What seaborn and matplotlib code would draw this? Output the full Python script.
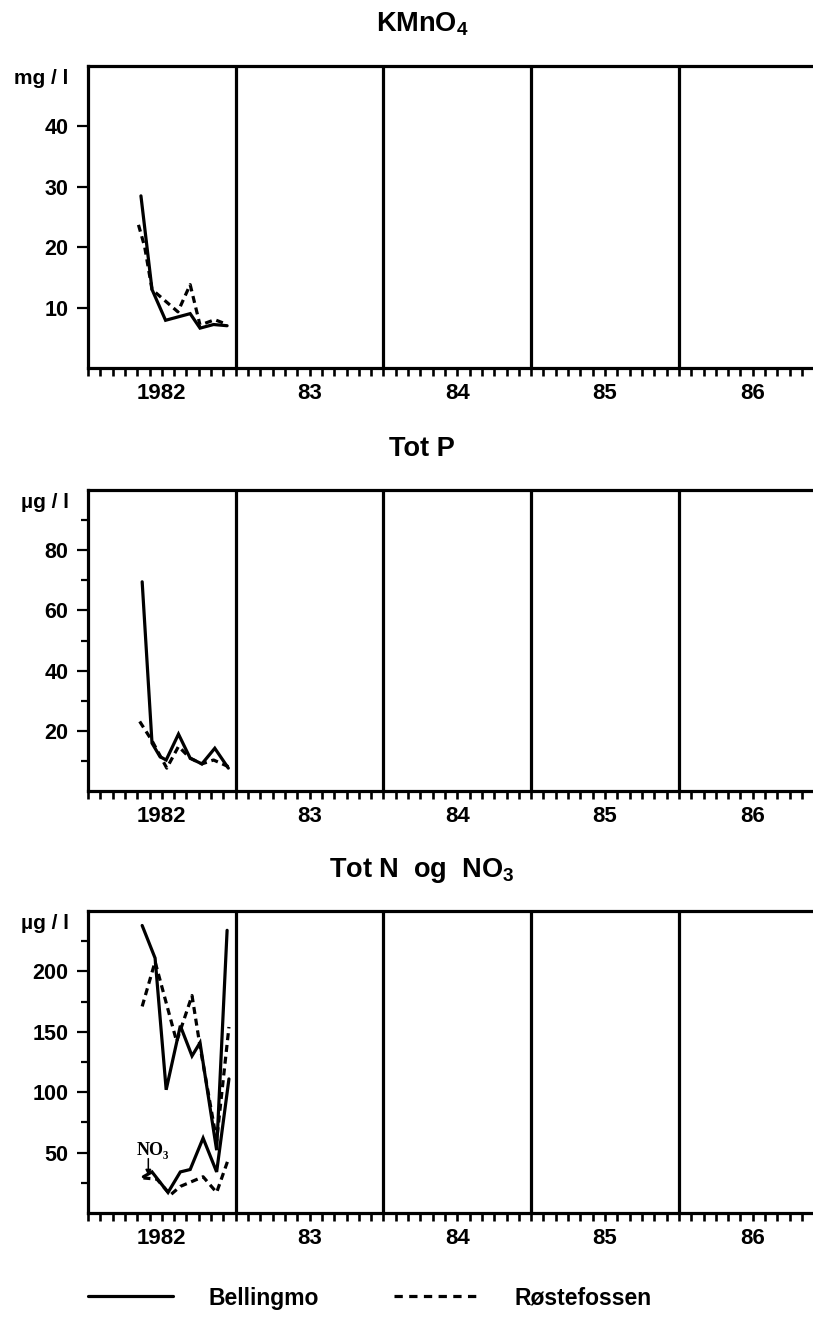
import numpy as np
import pandas as pd
import matplotlib
matplotlib.use("Agg")
import matplotlib.pyplot as plt
from matplotlib.lines import Line2D
from matplotlib.ticker import FixedLocator, NullFormatter, FixedFormatter
from matplotlib.font_manager import FontProperties
import seaborn as sns

# ---------------- data (x = months since 1 Jan 1982) ----------------
series_names = ["Bellingmo", "Røstefossen"]
year_labels = ["1982", "83", "84", "85", "86"]

kmno4_bel_month = [4.3, 5.2, 6.3, 8.3, 9.1, 10.2, 11.3]
kmno4_bel = [28.5, 13.0, 7.9, 9.0, 6.6, 7.2, 7.0]
kmno4_ros_month = [4.1, 4.6, 5.2, 7.3, 8.3, 9.1, 10.3, 11.3]
kmno4_ros = [23.7, 20.1, 13.0, 9.3, 13.8, 7.1, 8.0, 7.2]

totp_bel_month = [4.4, 5.2, 5.85, 6.35, 7.35, 8.3, 9.25, 10.3, 11.4]
totp_bel = [69.5, 15.9, 11.4, 10.3, 18.9, 10.9, 9.0, 14.2, 7.6]
totp_ros_month = [4.2, 5.2, 6.4, 7.35, 8.3, 9.25, 10.2, 11.4]
totp_ros = [23.1, 16.7, 7.6, 14.8, 10.9, 9.0, 10.3, 8.1]

totn_bel_month = [4.4, 5.45, 6.35, 7.5, 8.45, 9.1, 10.45, 11.3]
totn_bel = [238, 211, 102, 155, 130, 141, 52, 234]
totn_ros_month = [4.4, 5.45, 7.2, 8.45, 9.1, 10.45, 11.45]
totn_ros = [171, 208, 142, 180, 138, 60, 154]

no3_bel_month = [4.5, 5.2, 6.5, 7.5, 8.3, 9.35, 10.45, 11.45]
no3_bel = [30, 34, 17, 34, 36, 62, 34, 111]
no3_ros_month = [4.5, 5.6, 6.7, 7.5, 9.35, 10.45, 11.45]
no3_ros = [29, 28, 15, 22, 30, 17, 46]

# ---------------- style ----------------
sns.set_theme(style="white", rc={
    "text.color": "black", "axes.labelcolor": "black",
    "xtick.color": "black", "ytick.color": "black",
    "axes.edgecolor": "black",
})
plt.rcParams['font.family'] = ['Liberation Sans', 'DejaVu Sans']
plt.rcParams['font.weight'] = 'bold'
plt.rcParams['mathtext.fontset'] = 'custom'
plt.rcParams['mathtext.rm'] = 'Liberation Sans:bold'
plt.rcParams['mathtext.default'] = 'rm'

W, H = 813, 1317
fig = plt.figure(figsize=(W / 100, H / 100), dpi=100)

LEFT = 88
MONTH_PX = 12.31
XMAX = (W - LEFT) / MONTH_PX
LW = 2.3
DASH = (0, (2.2, 1.5))

panels = [
    dict(title="KMnO$_4$", unit="mg / l", top=66, bottom=368, ylim=(0, 50),
         major=[10, 20, 30, 40], minor=[],
         series=[(kmno4_bel_month, kmno4_bel, False), (kmno4_ros_month, kmno4_ros, True)]),
    dict(title="Tot P", unit="µg / l", top=490, bottom=791, ylim=(0, 100),
         major=[20, 40, 60, 80], minor=[10, 30, 50, 70, 90],
         series=[(totp_bel_month, totp_bel, False), (totp_ros_month, totp_ros, True)]),
    dict(title="Tot N  og  NO$_3$", unit="µg / l", top=911, bottom=1213, ylim=(0, 250),
         major=[50, 100, 150, 200], minor=[25, 75, 125, 175, 225],
         series=[(totn_bel_month, totn_bel, False), (totn_ros_month, totn_ros, True),
                 (no3_bel_month, no3_bel, False), (no3_ros_month, no3_ros, True)]),
]

axes = []
for p in panels:
    ax = fig.add_axes([LEFT / W, 1 - p["bottom"] / H, 1 - LEFT / W, (p["bottom"] - p["top"]) / H])
    axes.append(ax)
    for months, vals, dashed in p["series"]:
        df = pd.DataFrame({"month": months, "value": vals})
        sns.lineplot(data=df, x="month", y="value", ax=ax, color="black", lw=LW,
                     sort=False, estimator=None)
        line = ax.lines[-1]
        if dashed:
            line.set_linestyle(DASH)
            line.set_dash_capstyle("butt")
        line.set_solid_joinstyle("miter")
    for b in [12, 24, 36, 48]:
        ax.axvline(b, color="black", lw=LW, zorder=3)
    ax.set_xlim(0, XMAX)
    ax.set_ylim(*p["ylim"])
    ax.set_xlabel("")
    ax.set_ylabel("")
    for s in ["top", "left", "bottom"]:
        ax.spines[s].set_linewidth(LW)
        ax.spines[s].set_color("black")
    ax.spines["right"].set_visible(False)

    # x ticks: monthly marks, year labels centred
    ax.xaxis.remove_overlapping_locs = False
    ax.xaxis.set_major_locator(FixedLocator(np.arange(0, 59)))
    ax.xaxis.set_major_formatter(NullFormatter())
    ax.xaxis.set_minor_locator(FixedLocator([6, 18, 30, 42, 54]))
    ax.xaxis.set_minor_formatter(FixedFormatter(year_labels))
    ax.tick_params(axis="x", which="major", bottom=True, direction="out", length=6, width=1.9)
    ax.tick_params(axis="x", which="minor", bottom=True, length=0, pad=11, labelsize=16)

    ax.set_yticks(p["major"])
    ax.set_yticklabels([str(v) for v in p["major"]])
    ax.set_yticks(p["minor"], minor=True)
    ax.tick_params(axis="y", which="major", left=True, direction="out", length=8, width=1.6,
                   pad=6, labelsize=15.5)
    ax.tick_params(axis="y", which="minor", left=True, direction="out", length=5, width=1.6)

    ax.annotate(p["unit"], xy=(0, 1), xycoords="axes fraction", xytext=(-14, -2),
                textcoords="offset points", ha="right", va="top", fontsize=15)
    fig.text(422 / W, 1 - (p["top"] - 34) / H, p["title"], ha="center", va="baseline",
             fontsize=19.5)

# NO3 label with arrow
ax3 = axes[2]
ax3.text(5.3, 52, "NO₃", ha="center", va="center", fontsize=13,
         family=["Liberation Serif", "DejaVu Serif"], weight="bold")
ax3.annotate("", xy=(4.9, 31), xytext=(4.9, 45), textcoords="data",
             arrowprops=dict(arrowstyle="-|>", lw=1.1, color="black",
                             mutation_scale=8, shrinkA=0, shrinkB=0))

# legend
handles = [Line2D([], [], color="black", lw=LW),
           Line2D([], [], color="black", lw=LW, linestyle=(0, (2.6, 2.0)))]
fig.legend(handles, series_names, loc="center left",
           bbox_to_anchor=(LEFT / W, 1 - 1298 / H), ncol=2, frameon=False,
           handlelength=3.7, handletextpad=1.55, columnspacing=3.3,
           borderpad=0, borderaxespad=0,
           prop=FontProperties(family=["Liberation Sans", "DejaVu Sans"],
                               weight="bold", size=16.5))

fig.savefig("out.png", dpi=100)
